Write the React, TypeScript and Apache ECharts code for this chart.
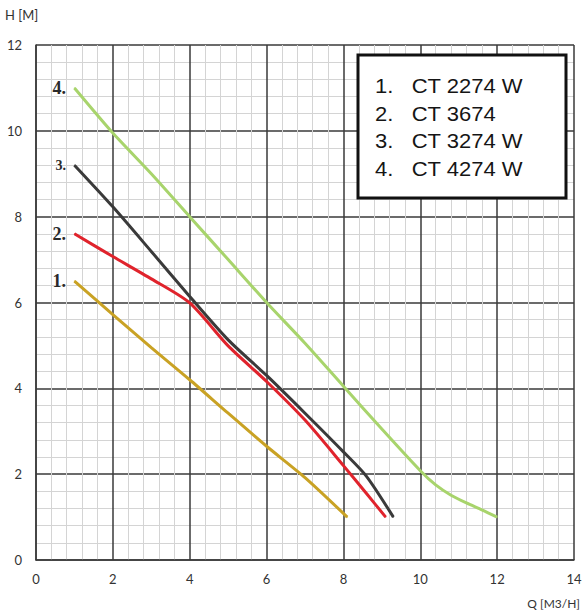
import React, { useEffect, useRef } from 'react';
import * as echarts from 'echarts';

// pump curves: flow Q [m3/h] and head H [m]
const q1 = [1, 2, 3, 4, 5, 6, 7, 8.1];
const h1 = [6.5, 5.72, 4.95, 4.2, 3.42, 2.65, 1.92, 1.0];
const q2 = [1, 2, 3, 4, 5, 6, 7, 8, 8.6, 9.1];
const h2 = [7.6, 7.07, 6.55, 5.99, 4.99, 4.16, 3.26, 2.2, 1.55, 1.0];
const q3 = [1, 2, 3, 4, 5, 6, 7, 8, 8.6, 9.3];
const h3 = [9.2, 8.23, 7.19, 6.14, 5.13, 4.3, 3.42, 2.52, 1.95, 1.0];
const q4 = [1, 2, 3, 4, 5, 6, 7, 8, 9, 10, 10.4, 10.8, 11.2, 11.6, 12];
const h4 = [11, 9.95, 9.0, 8.0, 7.0, 6.0, 5.05, 4.05, 3.05, 2.08, 1.75, 1.51, 1.33, 1.17, 1.0];

const curveNumbers = ['1.', '2.', '3.', '4.'];
const models = ['CT 2274 W', 'CT 3674', 'CT 3274 W', 'CT 4274 W'];
const colors = ['#c9a224', '#e0232c', '#3a3a3a', '#a8d46c'];
const labelSizes = [18, 18, 14, 18];

const xTicks = [0, 14, 2]; // min, max, interval
const yTicks = [0, 12, 2];

const App = () => {
    const chartRef = useRef(null);

    useEffect(() => {
        const myChart = echarts.init(chartRef.current, null, { renderer: 'svg' });

        const curves = [
            [q1, h1],
            [q2, h2],
            [q3, h3],
            [q4, h4],
        ];

        const major = { color: '#3a3a3a', width: 1.5 };

        myChart.setOption({
            animation: false,
            backgroundColor: '#fff',
            grid: { left: 36, right: 13, top: 45, bottom: 52, outerBoundsMode: 'none' },
            xAxis: {
                type: 'value',
                min: xTicks[0],
                max: xTicks[1],
                interval: xTicks[2],
                axisLine: { show: true, lineStyle: major },
                axisTick: { show: false },
                axisLabel: { margin: 12, fontSize: 13, color: '#333', fontFamily: 'Lato' },
                splitLine: { show: true, lineStyle: major },
                minorTick: { show: false, splitNumber: 5 },
                minorSplitLine: { show: true, lineStyle: { color: '#d4d4d4', width: 1 } },
            },
            yAxis: {
                type: 'value',
                min: yTicks[0],
                max: yTicks[1],
                interval: yTicks[2],
                axisLine: { show: true, lineStyle: major },
                axisTick: { show: false },
                axisLabel: { margin: 14, fontSize: 13, color: '#333', fontFamily: 'Lato' },
                splitLine: { show: true, lineStyle: major },
                minorTick: { show: false, splitNumber: 5 },
                minorSplitLine: { show: true, lineStyle: { color: '#d4d4d4', width: 1 } },
            },
            series: curves.map(([qs, hs], k) => ({
                name: models[k],
                type: 'line',
                smooth: 0.25,
                symbol: 'circle',
                symbolSize: 1,
                showSymbol: true,
                itemStyle: { color: colors[k] },
                lineStyle: { color: colors[k], width: 3 },
                label: { show: false },
                data: qs.map((q, i) =>
                    i === 0
                        ? {
                              value: [q, hs[i]],
                              label: {
                                  show: true,
                                  position: 'left',
                                  distance: 8,
                                  formatter: curveNumbers[k],
                                  fontFamily: 'Liberation Serif',
                                  fontWeight: 'bold',
                                  fontSize: labelSizes[k],
                                  color: '#2a2a2a',
                              },
                          }
                        : [q, hs[i]]
                ),
            })),
            graphic: [
                {
                    type: 'text',
                    left: 5,
                    top: 8,
                    style: { text: 'H [M]', fontSize: 13, fill: '#333', fontFamily: 'Lato' },
                },
                {
                    type: 'text',
                    right: 7,
                    top: 597,
                    style: { text: 'Q [M3/H]', fontSize: 12, fill: '#333', fontFamily: 'Lato' },
                },
                {
                    type: 'group',
                    x: 358,
                    y: 55,
                    z: 100,
                    children: [
                        {
                            type: 'rect',
                            z: 100,
                            shape: { x: 0, y: 0, width: 208, height: 143 },
                            style: { fill: '#fff', stroke: '#111', lineWidth: 3 },
                        },
                        ...models.map((m, i) => ({
                            type: 'text',
                            z: 101,
                            x: 17,
                            y: 31 + i * 27.5,
                            scaleX: 1.1,
                            style: {
                                text: curveNumbers[i] + '   ' + m,
                                fontSize: 20,
                                fontFamily: 'Liberation Sans',
                                fill: '#151515',
                                verticalAlign: 'middle',
                            },
                        })),
                    ],
                },
            ],
        });

        return () => {
            myChart.dispose();
        };
    }, []);

    return (
        <div
            ref={chartRef}
            style={{ position: 'fixed', left: 0, top: 0, width: '587px', height: '612px' }}
        />
    );
};

export default App;
